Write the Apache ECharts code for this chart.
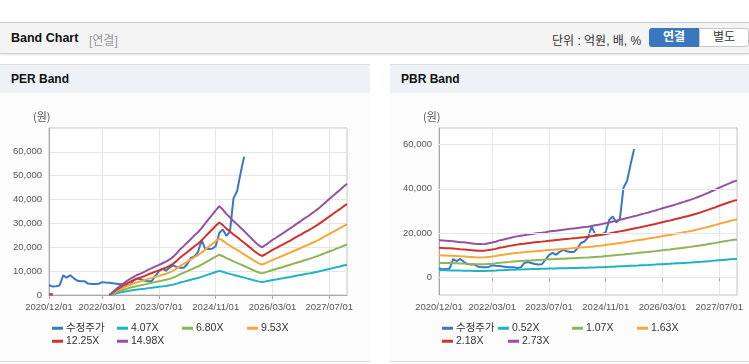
<!DOCTYPE html>
<html><head><meta charset="utf-8">
<script src="https://cdn.jsdelivr.net/npm/echarts@6/dist/echarts.min.js"></script>
<style>
body{margin:0;width:749px;height:364px;overflow:hidden;background:#fff;position:relative;font-family:"Liberation Sans",Arial,"Noto Sans CJK KR",sans-serif}
.hdr{position:absolute;left:0;top:22px;width:749px;height:30px;background:#f4f4f4;border-top:1px solid #cfcfcf;border-bottom:1px solid #d0d0d0;box-shadow:0 1px 2px rgba(0,0,0,0.10)}
.hdr .t{position:absolute;left:11px;top:8px;font-weight:bold;font-size:12.5px;color:#111}
.hdr .s{position:absolute;left:89px;top:8px;font-size:12px;color:#999}
.hdr .u{position:absolute;left:552px;top:8px;font-size:12px;color:#333}
.b1{position:absolute;left:649px;top:5px;width:50px;height:19px;line-height:19px;background:#3a78be;color:#fff;font-weight:bold;font-size:12px;text-align:center;border-radius:3px 0 0 3px}
.b2{position:absolute;left:699px;top:5px;width:48px;height:17px;line-height:17px;background:#fff;border:1px solid #c8c8c8;color:#333;font-size:12px;text-align:center;border-radius:0 3px 3px 0}
.p{position:absolute;top:64px;height:296px;border-top:1px solid #dcdcdc;border-bottom:1px solid #d8d8d8;background:#fcfcfc}
.ph{height:28px;background:#eef2f7;font-weight:bold;font-size:12px;line-height:28px;padding-left:11px;color:#111}
.c{position:absolute;top:93px;height:268px}
</style></head>
<body>
<div class="hdr"><span class="t">Band Chart</span><span class="s">[연결]</span><span class="u">단위 : 억원, 배, %</span><div class="b1">연결</div><div class="b2">별도</div></div>
<div class="p" style="left:0;width:370px"><div class="ph">PER Band</div></div>
<div class="p" style="left:390px;width:359px"><div class="ph">PBR Band</div></div>
<div id="c1" class="c" style="left:0;width:370px"></div>
<div id="c2" class="c" style="left:390px;width:359px"></div>
<script>
// months 2020/12 .. 2027/12
const categories = [];
for (let i = 0; i < 85; i++) {
  const y = 2020 + Math.floor((11 + i) / 12);
  const m = (11 + i) % 12 + 1;
  categories.push(y + '/' + String(m).padStart(2, '0') + '/01');
}
// category indices that carry a tick label
const labelIndex = [0, 15, 31, 47, 63, 79];
// adjusted share price (수정주가)
const price = [4100,3600,3700,4000,8200,7300,8300,7000,6000,5800,5800,4800,4600,4600,4700,5400,5200,5100,4900,4700,4500,4600,4200,4400,6400,6900,6500,6000,5800,5900,8000,10000,11000,10200,11500,12400,11800,11400,11400,13000,15500,16200,18000,23000,19500,19300,19400,20500,26000,27500,24800,26500,40500,43500,51000,58000];
// EPS used for PER band
const eps = [20,20,null,null,null,null,null,null,null,null,null,null,null,null,null,null,null,0,87,174,254,327,394,461,514,567,607,654,708,754,801,841,888,935,995,1068,1168,1282,1375,1469,1569,1669,1756,1869,1996,2123,2243,2370,2483,2390,2270,2176,2069,1983,1883,1789,1689,1589,1489,1402,1335,1395,1469,1542,1602,1669,1729,1802,1862,1936,2003,2069,2143,2203,2276,2350,2423,2510,2597,2684,2770,2857,2937,3031,3111];
// BPS used for PBR band
const bps = [6117,6081,6044,6007,5971,5897,5824,5788,5714,5641,5568,5495,5495,5531,5641,5751,5897,6117,6227,6374,6520,6667,6777,6886,6960,7070,7143,7253,7326,7399,7473,7582,7656,7729,7802,7875,7949,8022,8095,8168,8242,8315,8388,8498,8608,8718,8828,8974,9084,9231,9377,9524,9670,9817,9963,10110,10256,10440,10586,10733,10916,11062,11245,11429,11612,11758,11941,12125,12308,12491,12674,12857,13077,13297,13516,13773,14029,14286,14542,14835,15092,15348,15604,15861,16007];
const perMultiples = [4.07, 6.80, 9.53, 12.25, 14.98];
const pbrMultiples = [0.52, 1.07, 1.63, 2.18, 2.73];
const perLegendX = [52, 117, 182, 247, 52, 117];
const pbrLegendX = [52, 108, 182, 247, 52, 118];
const colors = ['#3a78c6', '#1fb3c4', '#8db556', '#f4a83a', '#d3322c', '#95539f'];

function fmt(v){ return v.toLocaleString('en-US'); }
const showAt = (i) => labelIndex.indexOf(i) >= 0;

function build(base, mults, legendX, yAxisCfg, gridRight, gridLines) {
  const names = ['수정주가'].concat(mults.map(m => m.toFixed(2) + 'X'));
  const series = [];
  if (gridLines) {
    series.push({type:'line', name:'_grid', data:categories.map(()=>null), z:1, silent:true,
      markLine:{silent:true, symbol:'none', label:{show:false}, lineStyle:{color:'#e6e6e6', type:'solid', width:1},
        data: gridLines.map(v => ({yAxis:v}))}});
  }
  series.push({type:'line', name:names[0], data:price, symbol:'none', z:2,
    lineStyle:{width:2, color:colors[0]}, itemStyle:{color:colors[0]}});
  mults.forEach((m, k) => {
    series.push({type:'line', name:names[k+1], symbol:'none', z:2, connectNulls:false,
      data: base.map(v => v == null ? null : Math.round(v * m)),
      lineStyle:{width:2, color:colors[k+1]}, itemStyle:{color:colors[k+1]}});
  });
  const legends = names.map((n, i) => ({
    data:[n], left:legendX[i], top:(i < 4 ? 237 : 250) - 7, padding:0,
    icon:'rect', itemWidth:11, itemHeight:3, selectedMode:false,
    textStyle:{fontSize:10.5, color:'#333', padding:[0,0,0,-2], fontFamily:'"Liberation Sans", Arial, "Noto Sans CJK KR", sans-serif'}
  }));
  return {
    animation:false,
    color:colors,
    title:{text:'(원)', left:33, top:18, padding:0, textStyle:{fontSize:11, fontWeight:'normal', color:'#555', fontFamily:'"Noto Sans CJK KR", sans-serif'}},
    legend:legends,
    grid:{left:49, right:gridRight, top:35, bottom:66, show:true, borderColor:'#c4c4c4', borderWidth:1, backgroundColor:'#fff'},
    xAxis:{type:'category', data:categories, boundaryGap:false,
      axisLine:{lineStyle:{color:'#a8a8a8'}},
      axisTick:{show:true, interval:showAt, length:4, lineStyle:{color:'#a8a8a8'}},
      axisLabel:{interval:showAt, fontSize:9.5, color:'#555', margin:7, fontFamily:'"Liberation Sans", Arial, sans-serif'},
      splitLine:{show:true, interval:showAt, lineStyle:{color:'#e6e6e6'}}},
    yAxis:yAxisCfg,
    series:series
  };
}

const yPer = {type:'value', min:0, max:70000, interval:10000,
  axisLine:{show:true, lineStyle:{color:'#a8a8a8'}}, axisTick:{show:false},
  axisLabel:{showMaxLabel:false, fontSize:9.5, color:'#555', margin:7, formatter:fmt, fontFamily:'"Liberation Sans", Arial, sans-serif'},
  splitLine:{show:true, lineStyle:{color:'#e6e6e6'}}};
const yPbr = {type:'value', min:-8000, max:67500, interval:4000,
  axisLine:{show:true, lineStyle:{color:'#a8a8a8'}}, axisTick:{show:false},
  axisLabel:{fontSize:9.5, color:'#555', margin:7, fontFamily:'"Liberation Sans", Arial, sans-serif',
    formatter: v => (v >= 0 && v % 20000 === 0) ? fmt(v) : ''},
  splitLine:{show:false}};

const c1 = echarts.init(document.getElementById('c1'));
c1.setOption(build(eps, perMultiples, perLegendX, yPer, 23, null));
const c2 = echarts.init(document.getElementById('c2'));
c2.setOption(build(bps, pbrMultiples, pbrLegendX, yPbr, 12, [0, 20000, 40000, 60000]));
</script>
</body></html>
